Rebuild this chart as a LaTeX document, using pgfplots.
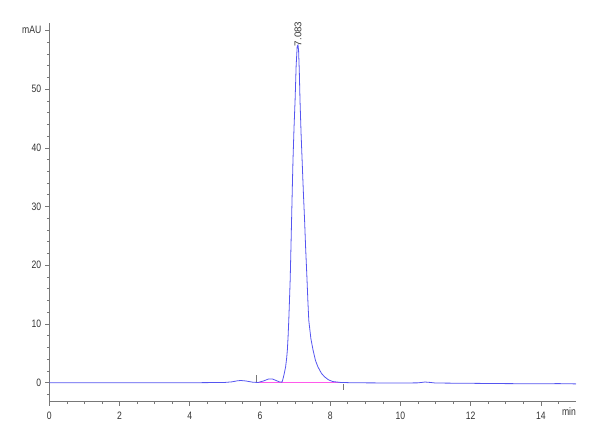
\documentclass[border=0pt]{standalone}
\usepackage{fontspec}
\setmainfont{Liberation Sans}
\newfontfamily\tickfont[FakeStretch=0.8]{Liberation Sans}
\usepackage{pgfplots}
\pgfplotsset{compat=1.18}
\definecolor{trace}{RGB}{85,85,240}
\definecolor{basecol}{RGB}{255,90,235}
\definecolor{axgray}{RGB}{120,120,120}
\begin{document}
\begin{tikzpicture}
\useasboundingbox (-49.3bp,-38.3bp) rectangle (550.7bp,401.7bp);
\begin{axis}[
    at={(0,0)}, anchor=south west,
    scale only axis,
    width=526.7bp, height=379bp,
    xmin=0, xmax=15,
    ymin=-3.23, ymax=61.3,
    axis lines*=left,
    axis line style={axgray, line width=0.6pt},
    tick align=outside,
    major tick length=4bp,
    minor tick length=2.5bp,
    every tick/.style={axgray, line width=0.6pt},
    xtick={0,2,...,14},
    minor xtick={0.5,1,...,14.5},
    extra x ticks={14.8},
    extra x tick labels={min},
    extra x tick style={major tick length=0pt},
    ytick={0,10,...,60},
    yticklabels={0,10,20,30,40,50,mAU},
    minor ytick={-2,0,...,60},
    tick label style={font=\tickfont\fontsize{10.8}{12}\selectfont, text=black!80},
    xticklabel style={yshift=-2.5bp},
    yticklabel style={xshift=-0.5bp},
    /pgf/number format/assume math mode=true,
    clip=false,
]
% integration baseline
\addplot[basecol, line width=0.8pt] coordinates {(5.9,0) (8.36,0)};
\addplot[axgray, line width=0.5pt] coordinates {(5.9,0.2) (5.9,1.3)};
\addplot[axgray, line width=0.5pt] coordinates {(8.36,-0.2) (8.36,-1.2)};
% chromatogram trace
\addplot[trace, line width=0.8pt] coordinates {
(0,0) (1,0) (2,0) (3,0) (4,0) (4.5,0.02) (5.0,0.05) (5.2,0.15)
(5.35,0.32) (5.45,0.38) (5.6,0.3) (5.8,0.08) (5.95,0.05) (6.1,0.3)
(6.25,0.65) (6.35,0.65) (6.45,0.4) (6.55,0.15) (6.62,0.1) (6.64,0.3)
(6.67,1.0) (6.70,1.8) (6.73,2.7) (6.76,4.2) (6.78,5.6) (6.80,7.8)
(6.82,10.6) (6.84,14) (6.86,17.5) (6.88,22.5) (6.90,27.7) (6.92,33)
(6.94,37.9) (6.97,43.5) (7.00,48.1) (7.03,54) (7.06,57.3) (7.083,57.5)
(7.10,56.5) (7.12,53) (7.14,48.1) (7.17,42.5) (7.20,37.9) (7.235,32.5)
(7.27,27.7) (7.30,23) (7.34,17.5) (7.365,13.8) (7.39,10.6) (7.45,7.5)
(7.51,5.6) (7.58,3.8) (7.65,2.7) (7.75,1.6) (7.84,1.0) (7.95,0.5)
(8.07,0.2) (8.3,0.05) (8.6,0.0) (9,-0.02) (10,-0.05) (10.5,-0.02)
(10.7,0.12) (10.85,0.05) (11,-0.05) (12,-0.1) (13,-0.15) (14,-0.18)
(14.5,-0.15) (15,-0.2)
};
\node[rotate=90, anchor=west, inner sep=0.5pt, font=\fontsize{9.8}{10}\selectfont, text=black!80]
    at (axis cs:7.083,57.2) {7.083};
\end{axis}
\end{tikzpicture}
\end{document}
